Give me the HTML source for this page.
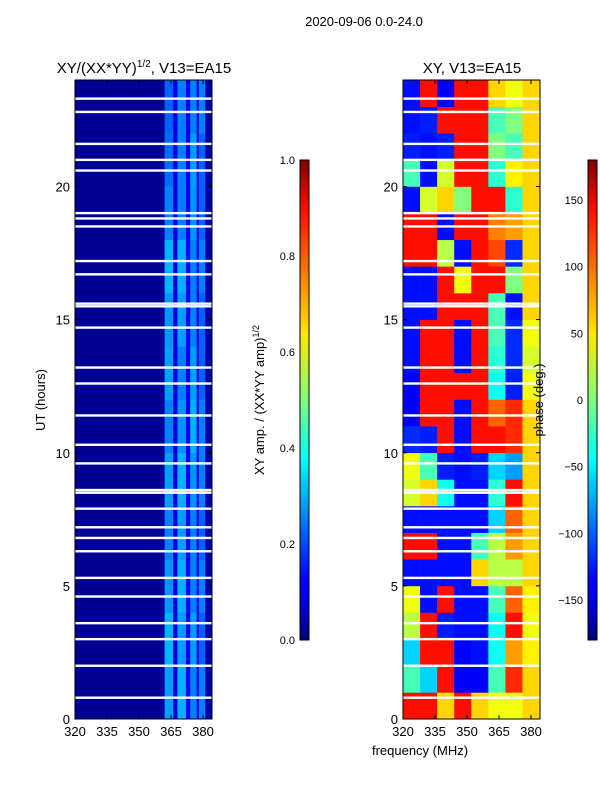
<!DOCTYPE html>
<html><head><meta charset="utf-8"><style>
body{margin:0;background:#fff;}
svg{display:block;font-family:"Liberation Sans",sans-serif;}
</style></head><body>
<svg id="fig" width="600" height="800" viewBox="0 0 600 800">
<defs>
<linearGradient id="jet" x1="0" y1="1" x2="0" y2="0">
<stop offset="0" stop-color="#00007f"/><stop offset="0.11" stop-color="#0000ff"/><stop offset="0.125" stop-color="#0000ff"/>
<stop offset="0.34" stop-color="#00d4ff"/><stop offset="0.375" stop-color="#00ffff"/><stop offset="0.5" stop-color="#7dff7a"/>
<stop offset="0.64" stop-color="#ffe600"/><stop offset="0.66" stop-color="#ffd000"/><stop offset="0.89" stop-color="#ff1300"/><stop offset="1" stop-color="#7f0000"/>
</linearGradient>
</defs>
<text x="364" y="26" font-size="13" text-anchor="middle">2020-09-06 0.0-24.0</text>
<text x="144" y="73" font-size="15" text-anchor="middle">XY/(XX*YY)<tspan font-size="10" dy="-6">1/2</tspan><tspan dy="6">, V13=EA15</tspan></text>
<text x="472" y="73" font-size="15" text-anchor="middle">XY, V13=EA15</text>
<g id="left"></g>
<g id="right"></g>
<g id="axes"></g>
<text x="420" y="755" font-size="13" text-anchor="middle">frequency (MHz)</text>
<text transform="translate(45,400) rotate(-90)" font-size="13" text-anchor="middle">UT (hours)</text>
<rect x="300" y="160" width="9" height="480" fill="url(#jet)" stroke="#000" stroke-width="1"/>
<rect x="588" y="160" width="9" height="480" fill="url(#jet)" stroke="#000" stroke-width="1"/>
<text transform="translate(264,400) rotate(-90)" font-size="13" text-anchor="middle">XY amp. / (XX*YY amp)<tspan font-size="9" dy="-5">1/2</tspan></text>
<text transform="translate(543,400) rotate(-90)" font-size="13" text-anchor="middle">phase (deg.)</text>
</svg>
<script>
const hoursTop=24, freqMin=320, freqMax=384.2;
const ampFreqEdges=[320,362,366,368,372,374,377,378,381,384.2];
// amp per 2-hour block (0-2 ... 22-24)
const ampRows=[
[0.02,0.28,0.1,0.3,0.12,0.25,0.1,0.25,0.04],[0.02,0.3,0.1,0.28,0.12,0.28,0.1,0.22,0.04],[0.02,0.27,0.1,0.3,0.12,0.25,0.1,0.25,0.04],
[0.02,0.25,0.1,0.28,0.12,0.25,0.1,0.22,0.04],[0.02,0.28,0.1,0.3,0.12,0.27,0.1,0.25,0.04],[0.02,0.25,0.1,0.27,0.12,0.3,0.1,0.25,0.04],
[0.02,0.28,0.1,0.25,0.12,0.28,0.1,0.22,0.04],[0.02,0.27,0.1,0.28,0.12,0.25,0.1,0.22,0.04],[0.02,0.3,0.1,0.3,0.12,0.25,0.1,0.25,0.04],
[0.02,0.25,0.1,0.25,0.12,0.27,0.1,0.22,0.04],[0.02,0.23,0.1,0.25,0.12,0.28,0.1,0.22,0.04],[0.02,0.22,0.1,0.25,0.12,0.25,0.1,0.25,0.04]];
const phaseFreqEdges=[320,328,336,344,352,360,368,376,384.2];
// phase (deg) per hour, hour 0-1 first
const phaseRows=[
[130,130,60,130,60,40,40,60],[-20,-60,130,-135,-135,-20,120,60],[-60,130,130,-135,-130,-40,80,50],
[20,130,-125,-130,-130,-40,130,40],[40,-130,130,-130,-130,-20,100,50],[-130,-130,-130,-130,60,20,20,60],
[130,130,-130,-130,-20,20,80,60],[-130,-130,-130,-130,-130,-60,100,60],[30,60,-40,-130,-130,-30,130,60],
[40,-20,-125,-130,-125,-60,-80,60],[-120,-125,130,-130,130,130,120,60],[-135,130,130,-130,130,100,120,60],
[-135,130,130,130,130,-40,-125,40],[-130,130,130,-130,130,-30,-120,30],[-130,130,130,-130,130,-20,-120,40],
[-130,-130,130,130,130,-20,-130,60],[-130,-130,130,40,130,130,0,60],[130,130,20,-130,130,110,-120,60],
[130,130,-130,130,130,90,80,60],[-130,30,60,0,130,130,-30,60],[-20,-130,30,130,130,-30,50,60],
[-125,-130,-125,130,130,0,-20,60],[-130,-125,130,130,130,-20,0,60],[-130,130,-135,130,130,60,40,60]];
const gapHours=[23.3,22.8,21.6,21.0,20.6,19.0,18.8,18.5,17.2,16.7,15.6,15.5,14.7,13.2,12.6,11.4,10.3,9.6,8.6,8.5,7.9,7.2,6.8,6.3,5.3,4.6,3.6,3.0,2.0,0.8];
const yTicks=[0,5,10,15,20];
const xTicks=[320,335,350,365,380];
const ampTicks=[0,0.2,0.4,0.6,0.8,1.0];
const phaseTicks=[-150,-100,-50,0,50,100,150];

const NS="http://www.w3.org/2000/svg";
const yOf=h=>719-h*(639/24);
function xOf(f,x0){return x0+(f-freqMin)/(freqMax-freqMin)*137;}
function jet(v){v=Math.max(0,Math.min(1,v));
 const r=Math.min(4*v-1.5,-4*v+4.5),g=Math.min(4*v-0.5,-4*v+3.5),b=Math.min(4*v+0.5,-4*v+2.5);
 const c=t=>Math.round(255*Math.max(0,Math.min(1,t)));return `rgb(${c(r)},${c(g)},${c(b)})`;}
function mk(tag,attrs,parent){const e=document.createElementNS(NS,tag);for(const k in attrs)e.setAttribute(k,attrs[k]);parent.appendChild(e);return e;}
const L=document.getElementById('left'),R=document.getElementById('right'),A=document.getElementById('axes');
ampRows.forEach((row,i)=>{row.forEach((v,j)=>{
 const x0=xOf(ampFreqEdges[j],75),x1=xOf(ampFreqEdges[j+1],75),y0=yOf((i+1)*2),y1=yOf(i*2);
 const r=mk('rect',{x:x0,y:y0,width:x1-x0+0.3,height:y1-y0+0.3,fill:jet(v)},L);
 
 });});
phaseRows.forEach((row,i)=>{row.forEach((v,j)=>{
 const x0=xOf(phaseFreqEdges[j],403),x1=xOf(phaseFreqEdges[j+1],403),y0=yOf(i+1),y1=yOf(i);
 const r=mk('rect',{x:x0,y:y0,width:x1-x0+0.3,height:y1-y0+0.3,fill:jet((v+180)/360)},R);
 
 });});
[75,403].forEach(x0=>{gapHours.forEach(h=>{
 const g=mk('rect',{x:x0,y:yOf(h)-1.2,width:137,height:2.4,fill:'#fff'},A);
 
 });
 const f=mk('rect',{x:x0,y:80,width:137,height:639,fill:'none',stroke:'#000'},A);
 
 
 yTicks.forEach(h=>{const y=yOf(h);mk('line',{x1:x0,x2:x0+4,y1:y,y2:y,stroke:'#000'},A);mk('line',{x1:x0+133,x2:x0+137,y1:y,y2:y,stroke:'#000'},A);
  const t=mk('text',{x:x0-5,y:y+5,'font-size':13,'text-anchor':'end'},A);t.textContent=h;
  
  });
 xTicks.forEach(fq=>{const x=xOf(fq,x0);mk('line',{x1:x,x2:x,y1:719,y2:715,stroke:'#000'},A);mk('line',{x1:x,x2:x,y1:80,y2:84,stroke:'#000'},A);
  const t=mk('text',{x:x,y:736,'font-size':13,'text-anchor':'middle'},A);t.textContent=fq;
  
  });});
ampTicks.forEach(v=>{const y=640-v*480;mk('line',{x1:300,x2:303,y1:y,y2:y,stroke:'#000'},A);
 const t=mk('text',{x:295,y:y+4,'font-size':11,'text-anchor':'end'},A);t.textContent=v.toFixed(1);
 
 });
phaseTicks.forEach(v=>{const y=640-(v+180)/360*480;mk('line',{x1:588,x2:591,y1:y,y2:y,stroke:'#000'},A);
 const t=mk('text',{x:583,y:y+4,'font-size':11,'text-anchor':'end'},A);t.textContent=v<0?'\u2212'+(-v):v;
 
 });
</script>
</body></html>
